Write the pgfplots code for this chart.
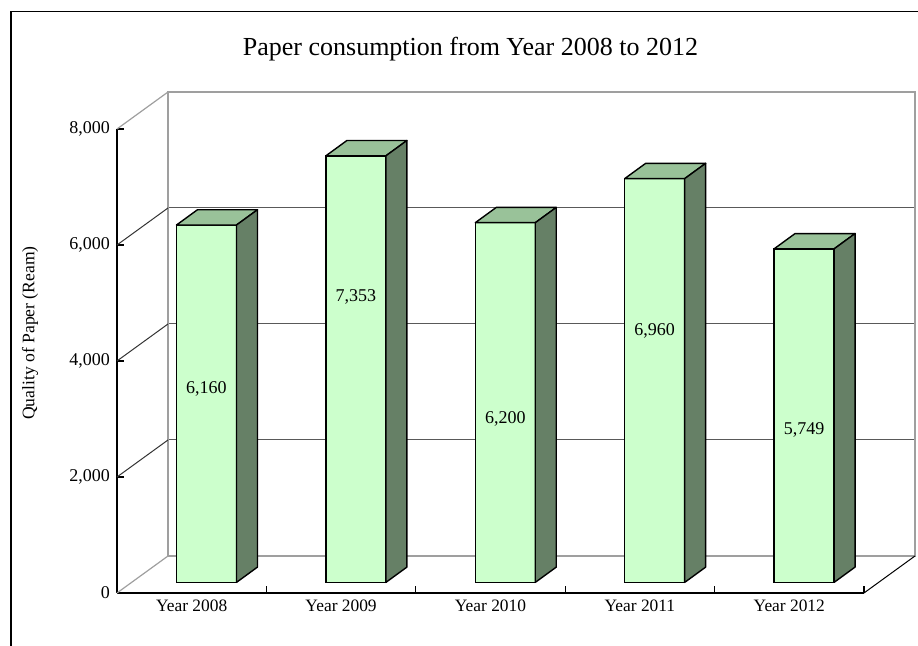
\documentclass[border=0pt]{standalone}
\usepackage{fontspec}
\setmainfont{Liberation Serif}
\usepackage{pgfplots}
\usepackage{pgfplotstable}
\pgfplotsset{compat=1.18}
\definecolor{frontc}{RGB}{204,255,204}
\definecolor{topc}{RGB}{153,194,153}
\definecolor{sidec}{RGB}{102,128,102}
\pgfplotstableread{
x v ly
0 6160 3328
1 7353 4919
2 6200 2810
3 6960 4340
4 5749 2626
}\paperdata
\begin{document}
\begin{tikzpicture}
\pgfplotsset{/pgf/number format/assume math mode=true, /pgf/number format/1000 sep={,}}
\useasboundingbox (0,0) rectangle (459pt,323pt);
% outer frame
\draw[line width=0.6pt] (5.5pt,-2pt) -- (5.5pt,317.25pt) -- (462pt,317.25pt);
% title
\node[font=\fontsize{13}{15}\selectfont] at (235.25pt,298.5pt) {Paper consumption from Year 2008 to 2012};
% y label
\node[rotate=90, font=\fontsize{8.8}{10}\selectfont] at (15pt,156.5pt) {Quality of Paper (Ream)};
% back wall
\begin{axis}[at={(84pt,45pt)}, anchor=south west, scale only axis,
  width=373.5pt, height=232pt, xmin=-0.5, xmax=4.5, ymin=0, ymax=8000,
  xtick=\empty, ytick={0,2000,...,8000}, yticklabels={}, major tick length=0pt,
  ymajorgrids, grid style={black!65, line width=0.5pt},
  axis line style={gray!75, line width=0.7pt}]
\end{axis}
% front axis
\begin{axis}[at={(58.5pt,26.5pt)}, anchor=south west, scale only axis,
  width=373.5pt, height=232pt, xmin=-0.5, xmax=4.5, ymin=0, ymax=8000,
  axis x line*=bottom, axis y line*=left, clip=false,
  axis line style={black, line width=0.6pt},
  tick align=inside, major tick length=3.5pt, tick style={black, line width=0.6pt},
  scaled y ticks=false,
  ytick={0,2000,...,8000},
  yticklabel style={font=\fontsize{9}{10}\selectfont},
  xtick={0.5,1.5,2.5,3.5,4.5},
  xticklabels={Year 2008,Year 2009,Year 2010,Year 2011,Year 2012},
  xticklabel style={font=\fontsize{8.7}{10}\selectfont, xshift=-37.35pt}]
\draw[gray!75, line width=0.6pt] (axis cs:-0.5,0) -- ++(25.5pt,18.5pt);
\draw[gray!75, line width=0.6pt] (axis cs:-0.5,8000) -- ++(25.5pt,18.5pt);
\pgfplotsinvokeforeach{2000,4000,6000}{
  \draw[black!80, line width=0.5pt] (axis cs:-0.5,#1) -- ++(25.5pt,18.5pt);
}
\draw[black, line width=0.5pt] (axis cs:4.5,0) -- ++(25.5pt,18.5pt);
\end{axis}
% bars
\begin{axis}[at={(65.9pt,31.85pt)}, anchor=south west, scale only axis,
  width=373.5pt, height=232pt, xmin=-0.5, xmax=4.5, ymin=0, ymax=8000,
  hide axis, clip=false]
\addplot[ybar, bar width=30pt, bar shift=0pt, fill=frontc, draw=black, line width=0.7pt]
  table[x=x, y=v] {\paperdata};
\addplot[scatter, only marks, mark=*, mark size=0pt, mark options={draw=none, fill=none},
  visualization depends on={\thisrow{v} \as \val},
  scatter/@pre marker code/.code={
    \pgfmathsetmacro\hh{7.65-\val*0.029}
    \filldraw[fill=topc, draw=black, line width=0.7pt, line join=round]
      (-15pt,0pt) -- (15pt,0pt) -- (25.5pt,7.65pt) -- (-4.5pt,7.65pt) -- cycle;
    \filldraw[fill=sidec, draw=black, line width=0.7pt, line join=round]
      (15pt,0pt) -- (25.5pt,7.65pt) -- (25.5pt,\hh pt) -- (15pt,{-\val*0.029pt}) -- cycle;
  },
  scatter/@post marker code/.code={}]
  table[x=x, y=v] {\paperdata};
\addplot[only marks, mark=*, mark size=0pt, mark options={draw=none, fill=none},
  point meta=\thisrow{v}, nodes near coords,
  every node near coord/.append style={anchor=center, font=\fontsize{9}{10}\selectfont, inner sep=0pt}]
  table[x=x, y=ly] {\paperdata};
\end{axis}
\end{tikzpicture}
\end{document}
